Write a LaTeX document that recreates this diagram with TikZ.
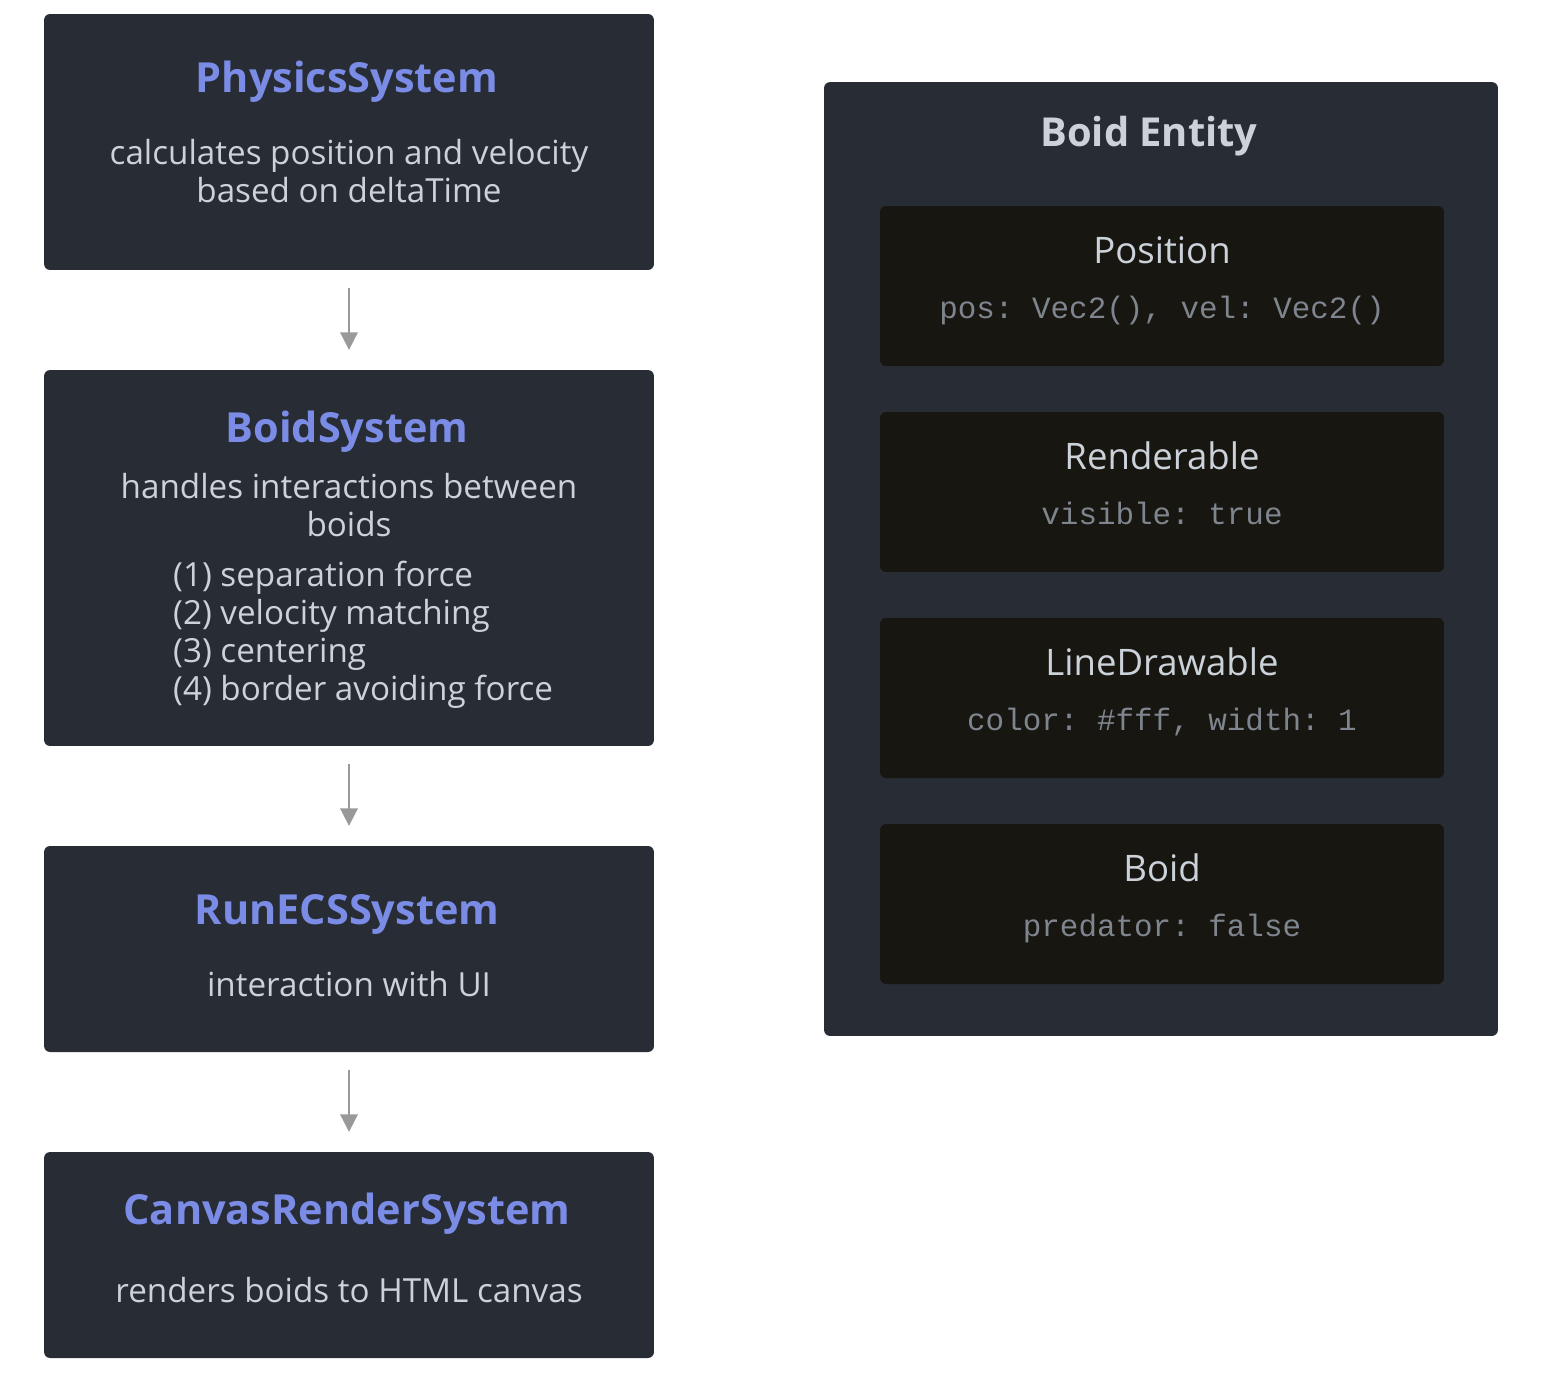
\documentclass[tikz,border=0pt]{standalone}
\usepackage{fontspec}
\setmainfont{Open Sans}
\setmonofont{Liberation Mono}
\usepackage{tikz}
\usetikzlibrary{positioning}
\usetikzlibrary{arrows.meta}

\definecolor{panelbg}{HTML}{282C34}
\definecolor{compbg}{HTML}{181610}
\definecolor{sysblue}{HTML}{7B8CE6}
\definecolor{lighttext}{HTML}{CBD2DA}
\definecolor{codegray}{HTML}{7F858E}
\definecolor{flowgray}{HTML}{999999}

\tikzset{
  sysbox/.style={fill=panelbg, rounded corners=3.4pt, inner sep=0pt,
    minimum width=12.2cm},
  compbox/.style={fill=compbg, rounded corners=3.4pt, inner sep=0pt,
    minimum width=11.28cm, minimum height=3.2cm},
  systitle/.style={anchor=base, text=sysblue, font=\bfseries\fontsize{23.6}{28}\selectfont},
  sysdesc/.style={anchor=base, text=lighttext, align=center,
    font=\fontsize{18.9}{21.5}\selectfont},
  comptitle/.style={anchor=base, text=lighttext, font=\fontsize{20.8}{24}\selectfont},
  compcode/.style={anchor=base, text=codegray, font=\fontsize{17.6}{21}\ttfamily},
  flow/.style={draw=flowgray, line width=1.1pt,
    -{Triangle[length=10pt,width=10pt]}, shorten <=10.2pt, shorten >=11.3pt}
}

\begin{document}
\begin{tikzpicture}[x=0.02cm, y=-0.02cm]
    \useasboundingbox (0,0) rectangle (1564,1390);

    % Systems
    \node[sysbox, minimum height=5.12cm] (phys) at (349,142) {};
    \node[sysbox, minimum height=7.52cm] (boids) at (349,558) {};
    \node[sysbox, minimum height=4.12cm] (runecs) at (349,949) {};
    \node[sysbox, minimum height=4.12cm] (canvas) at (349,1255) {};

    % multi-line texts sit on their last baseline
    \node[systitle] (physT) at (347,92) {PhysicsSystem};
    \node[sysdesc] (physD) at (349,202) {calculates position and velocity\\based on deltaTime};

    \node[systitle] (boidsT) at (347,442) {BoidSystem};
    \node[sysdesc] (boidsD) at (349,536) {handles interactions between\\boids};
    \node[sysdesc, anchor=base west, align=left] (boidsL) at (167,700)
        {(1) separation force\\(2) velocity matching\\(3) centering\\(4) border avoiding force};

    \node[systitle] (runecsT) at (347,924) {RunECSSystem};
    \node[sysdesc] (runecsD) at (349,996) {interaction with UI};

    \node[systitle] (canvasT) at (347,1224) {CanvasRenderSystem};
    \node[sysdesc] (canvasD) at (349,1302) {renders boids to HTML canvas};

    % Flow
    \draw[flow] (phys) -- (boids);
    \draw[flow] (boids) -- (runecs);
    \draw[flow] (runecs) -- (canvas);

    % Entity
    \node[sysbox, minimum width=13.48cm, minimum height=19.08cm] (entity) at (1161,559) {};
    \node[systitle, text=lighttext, font=\bfseries\fontsize{22.7}{27}\selectfont] (entityT) at (1149,146) {Boid Entity};

    \node[compbox] (pos) at (1162,286) {};
    \node[comptitle] (posT) at (1162,263) {Position};
    \node[compcode] (posC) at (1162,318) {pos: Vec2(), vel: Vec2()};

    \node[compbox] (rend) at (1162,492) {};
    \node[comptitle] (rendT) at (1162,469) {Renderable};
    \node[compcode] (rendC) at (1162,524) {visible: true};

    \node[compbox] (line) at (1162,698) {};
    \node[comptitle] (lineT) at (1162,675) {LineDrawable};
    \node[compcode] (lineC) at (1162,730) {color: \#fff, width: 1};

    \node[compbox] (boid) at (1162,904) {};
    \node[comptitle] (boidT) at (1162,881) {Boid};
    \node[compcode] (boidC) at (1162,936) {predator: false};
\end{tikzpicture}
\end{document}
